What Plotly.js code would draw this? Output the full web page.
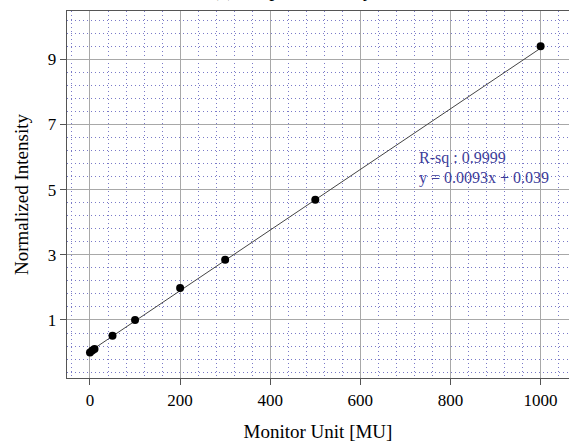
<!DOCTYPE html>
<html>
<head>
<meta charset="utf-8">
<script src="https://cdn.plot.ly/plotly-3.0.1.min.js"></script>
<style>html,body{margin:0;padding:0;background:#fff;}#chart{width:569px;height:447px;}</style>
</head>
<body>
<div id="chart"></div>
<script>
// Data
const monitorUnits = [0, 5, 10, 50, 100, 200, 300, 500, 1000];
const intensity = [0.0, 0.06, 0.11, 0.52, 1.0, 1.98, 2.85, 4.69, 9.4];
const fitX = [0, 1000];
const fitY = [0.039, 9.339];
const xTicks = [0, 200, 400, 600, 800, 1000];
const yTicks = [1, 3, 5, 7, 9];
const fitText = ['R-sq : 0.9999', 'y = 0.0093x + 0.039'];

const serif = 'Liberation Serif, Times New Roman, serif';

const traces = [
  {x: fitX, y: fitY, mode: 'lines', line: {color: '#444', width: 1}, hoverinfo: 'skip'},
  {x: monitorUnits, y: intensity, mode: 'markers', marker: {color: '#000', size: 8}}
];

const axisCommon = {
  showline: true, mirror: true, linecolor: '#555', linewidth: 1.3,
  ticks: 'outside', ticklen: 6, tickcolor: '#555',
  showgrid: true, gridcolor: '#a8a8a8', gridwidth: 1,
  zeroline: false,
  tickfont: {family: serif, size: 17, color: '#000'}
};

const minorGrid = {showgrid: true, gridcolor: '#7a7ac8', griddash: '1px,3px', gridwidth: 1};

const layout = {
  width: 569, height: 447,
  margin: {l: 67, r: 0, t: 11, b: 69},
  paper_bgcolor: '#fff', plot_bgcolor: '#fff',
  showlegend: false,
  xaxis: Object.assign({}, axisCommon, {
    range: [-51, 1063], tickmode: 'array', tickvals: xTicks,
    minor: Object.assign({dtick: 40, tick0: 0}, minorGrid),
    title: {text: 'Monitor Unit [MU]', font: {family: serif, size: 19, color: '#000'}, standoff: 16}
  }),
  yaxis: Object.assign({}, axisCommon, {
    range: [-0.78, 10.48], tickmode: 'array', tickvals: yTicks,
    minor: Object.assign({dtick: 0.4, tick0: 1}, minorGrid),
    title: {text: 'Normalized Intensity', font: {family: serif, size: 19, color: '#000'}, standoff: 14}
  }),
  annotations: [
    {xref: 'x', yref: 'y', x: 726, y: 5.97, xanchor: 'left', yanchor: 'middle', showarrow: false,
     text: fitText[0], font: {family: serif, size: 16, color: '#3c3c9a'}},
    {xref: 'x', yref: 'y', x: 726, y: 5.36, xanchor: 'left', yanchor: 'middle', showarrow: false,
     text: fitText[1], font: {family: serif, size: 16, color: '#3c3c9a'}},
    {xref: 'paper', yref: 'paper', x: 0.45, y: 1.0, xanchor: 'center', yanchor: 'bottom', yshift: 8, showarrow: false,
     text: '(a) Output Linearity', font: {family: serif, size: 20, color: '#000'}}
  ]
};

Plotly.newPlot('chart', traces, layout, {displayModeBar: false, staticPlot: true});
</script>
</body>
</html>
